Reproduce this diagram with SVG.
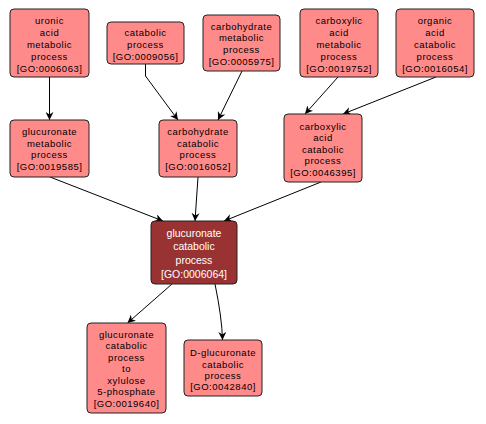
<svg xmlns="http://www.w3.org/2000/svg" width="486" height="424" viewBox="0 0 486 424">
<style>
.n rect{fill:#FF8A8A;stroke:#222;stroke-width:1}
.n text{font-family:"Liberation Sans",Arial,sans-serif;font-size:9.5px;letter-spacing:0.5px;text-anchor:middle;fill:#000}
.d rect{fill:#993333;stroke:#222;stroke-width:1}
.d text{font-family:"Liberation Sans",Arial,sans-serif;font-size:10.5px;text-anchor:middle;fill:#fff}
.e path{fill:none;stroke:#000;stroke-width:1;marker-end:url(#a)}
</style>
<defs>
<marker id="a" viewBox="0 0 10 10" refX="10" refY="5" markerWidth="8" markerHeight="8" markerUnits="userSpaceOnUse" orient="auto">
<path d="M0,0 L10,5 L0,10 L3,5 z" fill="#000"/>
</marker>
</defs>
<rect width="486" height="424" fill="#fff"/>
<g id="edges" class="e">
<path d="M49.5,77 L49.5,120"/>
<path d="M145.5,64 L145.5,76 L178,120"/>
<path d="M242,71 L218,120"/>
<path d="M338,77 L305,114"/>
<path d="M436,77 L343,114"/>
<path d="M50,177 L163,221"/>
<path d="M198,177 L195,221"/>
<path d="M321,182 L224,221"/>
<path d="M172,284 L127.5,323"/>
<path d="M215,284 Q222,318 222.5,340"/>
</g>
<g id="n1" class="n"><rect x="10" y="9" width="79" height="68" rx="4"/>
<text x="49.5" y="23.5">uronic</text><text x="49.5" y="35.5">acid</text><text x="49.5" y="47.5">metabolic</text><text x="49.5" y="59.5">process</text><text x="49.5" y="71.5">[GO:0006063]</text></g>
<g id="n2" class="n"><rect x="107" y="22" width="77" height="42" rx="4"/>
<text x="145.5" y="35.8">catabolic</text><text x="145.5" y="47.5">process</text><text x="145.5" y="59.5">[GO:0009056]</text></g>
<g id="n3" class="n"><rect x="203" y="15" width="77" height="56" rx="4"/>
<text x="241.5" y="29.5">carbohydrate</text><text x="241.5" y="41">metabolic</text><text x="241.5" y="53">process</text><text x="241.5" y="65">[GO:0005975]</text></g>
<g id="n4" class="n"><rect x="300" y="9" width="78" height="68" rx="4"/>
<text x="339" y="23.5">carboxylic</text><text x="339" y="35.5">acid</text><text x="339" y="47.5">metabolic</text><text x="339" y="59.5">process</text><text x="339" y="71.5">[GO:0019752]</text></g>
<g id="n5" class="n"><rect x="396" y="9" width="78" height="68" rx="4"/>
<text x="435" y="23.5">organic</text><text x="435" y="35.5">acid</text><text x="435" y="47.5">catabolic</text><text x="435" y="59.5">process</text><text x="435" y="71.5">[GO:0016054]</text></g>
<g id="n6" class="n"><rect x="10" y="120" width="79" height="57" rx="4"/>
<text x="49.5" y="135">glucuronate</text><text x="49.5" y="146.5">metabolic</text><text x="49.5" y="158">process</text><text x="49.5" y="169.5">[GO:0019585]</text></g>
<g id="n7" class="n"><rect x="159" y="120" width="78" height="57" rx="4"/>
<text x="198" y="135">carbohydrate</text><text x="198" y="146.5">catabolic</text><text x="198" y="158">process</text><text x="198" y="169.5">[GO:0016052]</text></g>
<g id="n8" class="n"><rect x="284" y="114" width="78" height="68" rx="4"/>
<text x="323" y="129.5">carboxylic</text><text x="323" y="141">acid</text><text x="323" y="152.5">catabolic</text><text x="323" y="164">process</text><text x="323" y="175.5">[GO:0046395]</text></g>
<g id="n9" class="d"><rect x="151" y="221" width="86" height="63" rx="4"/>
<text x="194" y="236.5">glucuronate</text><text x="194" y="250">catabolic</text><text x="194" y="264">process</text><text x="194" y="277.5">[GO:0006064]</text></g>
<g id="n10" class="n"><rect x="87" y="323" width="79" height="90" rx="4"/>
<text x="126.5" y="337.5">glucuronate</text><text x="126.5" y="349">catabolic</text><text x="126.5" y="360.5">process</text><text x="126.5" y="372">to</text><text x="126.5" y="383.5">xylulose</text><text x="126.5" y="395">5-phosphate</text><text x="126.5" y="406.5">[GO:0019640]</text></g>
<g id="n11" class="n"><rect x="184" y="340" width="78" height="56" rx="4"/>
<text x="223" y="356">D-glucuronate</text><text x="223" y="367.5">catabolic</text><text x="223" y="379">process</text><text x="223" y="390">[GO:0042840]</text></g>
</svg>
